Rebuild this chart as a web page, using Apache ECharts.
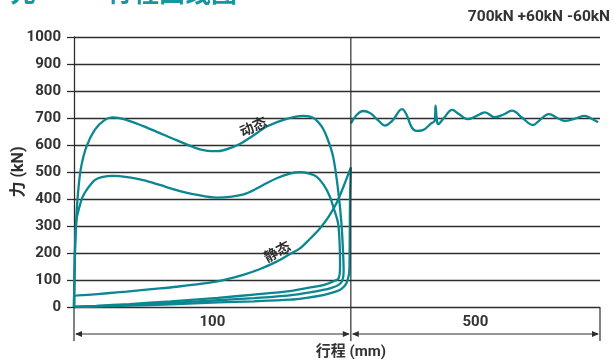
<!DOCTYPE html>
<html><head><meta charset="utf-8">
<script src="https://cdn.jsdelivr.net/npm/echarts@6/dist/echarts.min.js"></script>
<style>html,body{margin:0;padding:0;background:#fff}#c{width:614px;height:363px}</style>
</head><body><div id="c"></div>
<script>
// ---- data (x: stroke units, 0-100 = first segment "100", 100-190 = compressed "500" segment; y: kN)
const yTickValues = [0,100,200,300,400,500,600,700,800,900,1000];
const segmentLabels = ['100','500'];
const segmentBounds = [0,100,190];
const titleText = '700kN +60kN -60kN';
const yName = '力 (kN)';
const xName = '行程 (mm)';
const curveLabels = ['动态','静态'];

const dynamicLoop = [[0,0],[0.2,120],[0.5,250],[1.0,360],[1.7,450],[2.6,520],[4.5,594],[7.5,656],[11,692],[14,702],[18,696],[25,670],[31,644],[37,618],[45.5,584],[51.5,577],[58.7,598],[64,630],[70,670],[76.8,697],[82.8,708],[86.5,700],[89.5,668],[91.5,625],[93.6,557],[95.4,433],[96.6,310],[97.2,200],[97.4,130],[96.8,95],[95.4,81],[93,71],[90,63],[84,52],[78,43],[65,33],[52,25],[35,15],[20,8],[8,3],[0,0]];
const staticHighLoop = [[0,0],[0.2,150],[0.5,260],[1.0,330],[2,372],[3,405],[4.5,433],[7.5,470],[10,481],[14.2,486],[20,480],[25,470],[31,452],[37,433],[44,416],[51.5,405],[57,409],[62.3,421],[68,450],[73.2,477],[78,494],[81.6,499],[85,494],[87.6,483],[90.2,452],[92.4,409],[94,360],[95.4,310],[96,220],[96.1,150],[96,125],[95.5,105],[94.2,97],[92,88],[90,81],[84,70],[78,59],[65,46],[52,34],[35,21],[20,11],[8,4],[0,0]];
const staticLoop = [[0,0],[0,40],[5,45],[12,51],[19,57],[28,66],[37.1,75],[49.1,90],[55,102],[61.1,119],[67,140],[73.2,168],[78,196],[81.6,217],[85,250],[88.8,291],[92,335],[94.8,384],[97.5,450],[100,517],[99.7,400],[99.6,250],[99.5,150],[99.3,120],[98.4,88],[97.2,72],[96,63],[93,52],[90,44],[84,34],[78,27],[65,21],[52,17],[35,10],[20,5],[8,2],[0,0]];
const sustainedWave = [[100,680],[102,710],[104.4,726],[107,718],[110,690],[112.3,672],[115,690],[118.5,733],[120,715],[122,665],[123.7,652],[126,655],[129,680],[130.3,690],[130.6,746],[131.1,690],[131.5,677],[133.6,700],[136.6,730],[139,715],[142.3,696],[146.6,714],[148.4,721],[152,703],[155,712],[158.2,727],[162,700],[165.8,674],[168,690],[171.5,714],[175,698],[177.3,689],[181,698],[184.5,708],[187,697],[189.3,684]];

const TEAL = '#0a8790';
const DARK = '#2e2e2e';
const FONT = 'Roboto, "Noto Sans CJK SC", sans-serif';

const chart = echarts.init(document.getElementById('c'), null, {renderer:'canvas'});
function lineSeries(data, smooth){
  return {type:'line', data:data, smooth:smooth, showSymbol:false, symbol:'none', silent:true,
    lineStyle:{color:TEAL, width:2.3}, z:3};
}
const option = {
  animation:false,
  grid:{left:74, right:14, top:37, bottom:56, containLabel:false, outerBoundsMode:'none'},
  xAxis:{type:'value', min:segmentBounds[0], max:segmentBounds[2], show:false},
  yAxis:{type:'value', min:yTickValues[0], max:yTickValues[yTickValues.length-1], interval:100,
    axisLine:{show:true, lineStyle:{color:DARK, width:1.3}},
    axisTick:{show:true, length:7, lineStyle:{color:DARK, width:1.3}},
    axisLabel:{margin:13, fontFamily:FONT, fontSize:15, fontWeight:'bold', color:'#333', formatter:(v)=>String(v)},
    splitLine:{show:true, lineStyle:{color:DARK, width:1.3}}},
  series:[
    lineSeries(dynamicLoop, 0.35),
    lineSeries(staticHighLoop, 0.35),
    lineSeries(staticLoop, 0.3),
    lineSeries(sustainedWave, 0.4)
  ]
};
chart.setOption(option);

const P = (x,y)=>chart.convertToPixel({gridIndex:0},[x,y]);
const p0 = P(segmentBounds[0],0), p1 = P(segmentBounds[1],0), p2 = P(segmentBounds[2],0);
const pTop = P(segmentBounds[1],1000);
const extBottom = p0[1]+34, arrowY = p0[1]+27;
const g = [];
const ls = {stroke:DARK, lineWidth:1.2};
g.push({type:'line', shape:{x1:p0[0],y1:p0[1],x2:p0[0],y2:extBottom}, style:ls, z:5});
g.push({type:'line', shape:{x1:p1[0],y1:pTop[1],x2:p1[0],y2:extBottom}, style:ls, z:5});
g.push({type:'line', shape:{x1:p2[0],y1:p2[1],x2:p2[0],y2:extBottom}, style:ls, z:5});
function arrow(xa, xb){
  g.push({type:'line', shape:{x1:xa+2,y1:arrowY,x2:xb-2,y2:arrowY}, style:{stroke:DARK,lineWidth:1.1}, z:5});
  g.push({type:'polygon', shape:{points:[[xa+1,arrowY],[xa+8,arrowY-3],[xa+8,arrowY+3]]}, style:{fill:DARK}, z:5});
  g.push({type:'polygon', shape:{points:[[xb-1,arrowY],[xb-8,arrowY-3],[xb-8,arrowY+3]]}, style:{fill:DARK}, z:5});
}
arrow(p0[0],p1[0]); arrow(p1[0],p2[0]);
const tstyle = (t,x,y,size,align)=>({type:'text', x:x, y:y, z:6, style:{text:t, fontFamily:FONT, fontSize:size, fontWeight:'bold', fill:'#333', align:align||'center', verticalAlign:'middle'}});
g.push(tstyle(segmentLabels[0], (p0[0]+p1[0])/2, p0[1]+15, 15));
g.push(tstyle(segmentLabels[1], (p1[0]+p2[0])/2, p0[1]+15, 15));
g.push(tstyle(xName, p1[0], p0[1]+45, 15));
g.push(tstyle(titleText, 610, 17, 15.5, 'right'));
// y-axis title (rotated)
g.push({type:'text', x:p0[0]-55, y:(p0[1]+pTop[1])/2, rotation:Math.PI/2, z:6,
  style:{text:yName, fontFamily:FONT, fontSize:16, fontWeight:'bold', fill:DARK, align:'center', verticalAlign:'middle'}});
const la = P(65,663), lb = P(73.6,200);
g.push({type:'text', x:la[0], y:la[1], rotation:0.42, z:6, style:{text:curveLabels[0], fontFamily:FONT, fontSize:14, fontWeight:'bold', fill:DARK, align:'center', verticalAlign:'middle'}});
g.push({type:'text', x:lb[0], y:lb[1], rotation:0.5, z:6, style:{text:curveLabels[1], fontFamily:FONT, fontSize:14, fontWeight:'bold', fill:DARK, align:'center', verticalAlign:'middle'}});
// cut-off heading at top-left
g.push({type:'text', x:10, y:-8, z:6, style:{text:'先', fontFamily:'"Noto Sans CJK SC"', fontSize:26, fontWeight:'bold', fill:'#1596a0', align:'left', verticalAlign:'middle'}});
g.push({type:'text', x:107, y:-8, z:6, style:{text:'行程曲线图', fontFamily:'"Noto Sans CJK SC"', fontSize:26, fontWeight:'bold', fill:'#1596a0', align:'left', verticalAlign:'middle'}});
chart.setOption({graphic:g});
</script></body></html>
